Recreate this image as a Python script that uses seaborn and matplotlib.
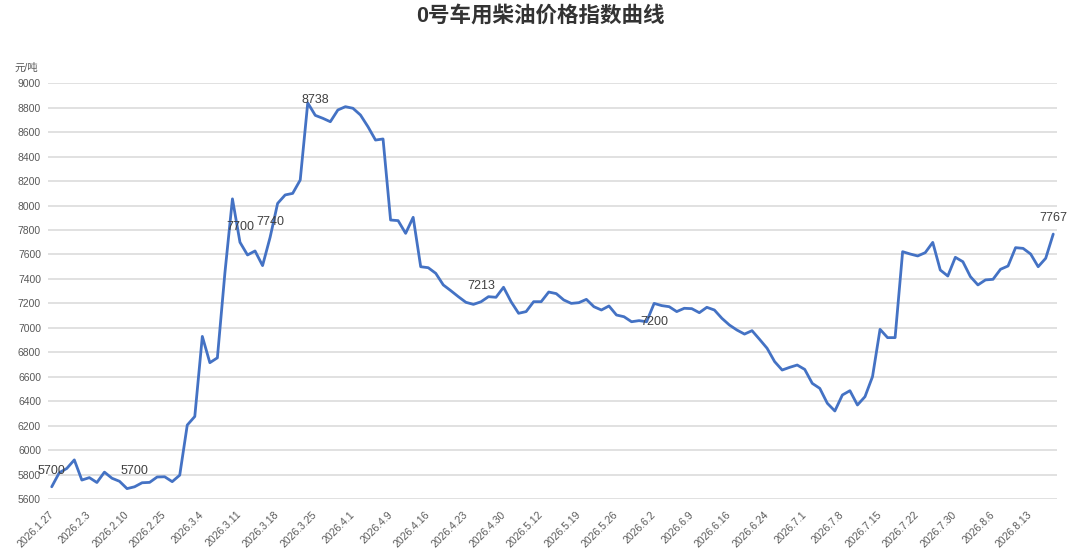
import numpy as np
import pandas as pd
import seaborn as sns
import matplotlib.pyplot as plt
from matplotlib.transforms import ScaledTranslation

# values, one per trading day
price = [5700, 5815, 5850, 5920, 5755, 5775, 5735, 5820, 5770, 5745,
         5685, 5700, 5733, 5736, 5780, 5782, 5742, 5795, 6205, 6275,
         6930, 6715, 6755, 7450, 8055, 7700, 7596, 7629, 7509, 7740,
         8018, 8087, 8100, 8209, 8840, 8738, 8714, 8686, 8782, 8809,
         8796, 8741, 8645, 8536, 8545, 7882, 7877, 7773, 7904, 7500,
         7492, 7446, 7351, 7304, 7255, 7209, 7192, 7213, 7255, 7250,
         7332, 7214, 7119, 7133, 7214, 7214, 7293, 7280, 7228, 7200,
         7206, 7233, 7173, 7146, 7179, 7105, 7091, 7050, 7059, 7050,
         7200, 7182, 7173, 7133, 7160, 7157, 7124, 7168, 7146, 7078,
         7023, 6982, 6949, 6977, 6906, 6833, 6724, 6655, 6677, 6696,
         6660, 6546, 6505, 6383, 6320, 6451, 6486, 6369, 6437, 6601,
         6988, 6920, 6920, 7623, 7604, 7588, 7615, 7699, 7473, 7424,
         7577, 7541, 7419, 7351, 7392, 7397, 7479, 7506, 7656, 7650,
         7604, 7500, 7569, 7767]

tick_dates = ["2026.1.27", "2026.2.3", "2026.2.10", "2026.2.25", "2026.3.4",
              "2026.3.11", "2026.3.18", "2026.3.25", "2026.4.1", "2026.4.9",
              "2026.4.16", "2026.4.23", "2026.4.30", "2026.5.12", "2026.5.19",
              "2026.5.26", "2026.6.2", "2026.6.9", "2026.6.16", "2026.6.24",
              "2026.7.1", "2026.7.8", "2026.7.15", "2026.7.22", "2026.7.30",
              "2026.8.6", "2026.8.13"]

# points that carry a value label
label_idx = [0, 11, 25, 29, 35, 57, 80, 133]

sns.set_theme(style="white")
plt.rcParams['font.family'] = ['Liberation Sans', 'Noto Sans CJK SC', 'DejaVu Sans']

df = pd.DataFrame({'idx': np.arange(len(price)), 'price': price})

fig = plt.figure(figsize=(10.8, 5.6), dpi=100)
ax = fig.add_axes([0.0444, 0.1089, 0.9343, 0.7423])

ax.set_yticks(np.arange(5600, 9001, 200))
ax.yaxis.grid(True, color='#d9d9d9', linewidth=1.1)
ax.set_axisbelow(True)

sns.lineplot(data=df, x='idx', y='price', ax=ax, color='#4472C4',
             linewidth=2.0, solid_joinstyle='round', solid_capstyle='round')

ax.set_xlim(-0.5, len(price) - 0.5)
ax.set_ylim(5600, 9000)
ax.set_xlabel('')
ax.set_ylabel('')
ax.set_xticks(np.arange(0, len(price), 5)[:len(tick_dates)])
ax.set_xticklabels(tick_dates, rotation=45, ha='right', va='center',
                   rotation_mode='anchor', fontsize=7.5, color='#595959')
shift = ScaledTranslation(4 / 100, 0, fig.dpi_scale_trans)
for lab in ax.get_xticklabels():
    lab.set_transform(lab.get_transform() + shift)
ax.tick_params(axis='x', length=0, pad=10)
ax.tick_params(axis='y', length=0, pad=5, labelsize=7.5, labelcolor='#595959')
for s in ax.spines.values():
    s.set_visible(False)

for i in label_idx:
    dy = -9 if i == 80 else 7
    va = 'top' if i == 80 else 'bottom'
    ax.annotate(str(price[i]), (i, price[i]), xytext=(0, dy),
                textcoords='offset points', ha='center', va=va,
                fontsize=9, color='#404040')

fig.text(0.5, 1 - 16 / 560, '0号车用柴油价格指数曲线', ha='center', va='center',
         fontsize=15.5, fontweight='bold', color='#333333')
fig.text(0.013, 1 - 68 / 560, '元/吨', ha='left', va='center',
         fontsize=7.5, color='#595959')

fig.savefig('out.png', dpi=100)
